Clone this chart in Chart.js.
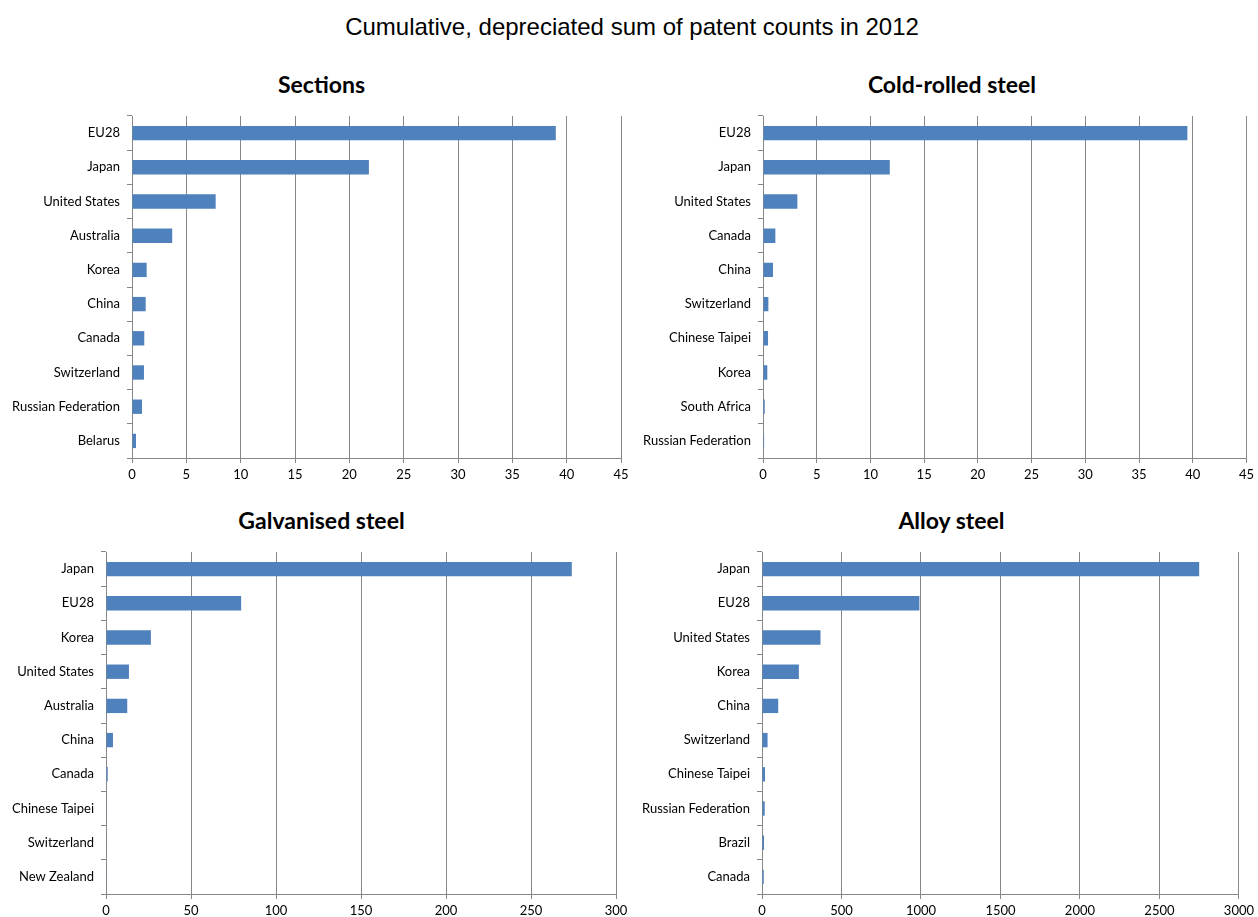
<!DOCTYPE html>
<html>
<head>
<meta charset="utf-8">
<title>Cumulative, depreciated sum of patent counts in 2012</title>
<script src="https://cdn.jsdelivr.net/npm/chart.js@4.4.0/dist/chart.umd.min.js"></script>
<style>
    body { margin: 0; width: 1258px; height: 917px; background: #fff; position: relative; overflow: hidden; }
    #mainTitle { position: absolute; left: 0; top: 13px; width: 1264px; text-align: center;
                 font-family: "Liberation Sans", Arial, sans-serif; font-size: 24px; color: #000; }
    .box { position: absolute; }
    .sub { position: absolute; text-align: center; font-family: Lato, "Noto Sans", sans-serif;
           font-size: 23px; font-weight: bold; line-height: 26px; color: #000; }
</style>
</head>
<body>
<div id="mainTitle">Cumulative, depreciated sum of patent counts in 2012</div>
<div class="sub" style="left:0;top:71px;width:643px">Sections</div>
<div class="sub" style="left:646px;top:71px;width:612px">Cold-rolled steel</div>
<div class="sub" style="left:0;top:507px;width:643px">Galvanised steel</div>
<div class="sub" style="left:646px;top:507px;width:611px">Alloy steel</div>

<div class="box" style="left:0;top:60px;width:640px;height:430px"><canvas id="chartSections"></canvas></div>
<div class="box" style="left:630px;top:60px;width:628px;height:430px"><canvas id="chartCold"></canvas></div>
<div class="box" style="left:0;top:496px;width:640px;height:421px"><canvas id="chartGalv"></canvas></div>
<div class="box" style="left:630px;top:496px;width:628px;height:421px"><canvas id="chartAlloy"></canvas></div>

<script>
// values
var sectionsLabels = ['EU28', 'Japan', 'United States', 'Australia', 'Korea', 'China', 'Canada', 'Switzerland', 'Russian Federation', 'Belarus'];
var sectionsValues = [39.0, 21.8, 7.7, 3.7, 1.35, 1.26, 1.13, 1.1, 0.92, 0.37];
var sectionsAxis = [0, 45, 5];

var coldLabels = ['EU28', 'Japan', 'United States', 'Canada', 'China', 'Switzerland', 'Chinese Taipei', 'Korea', 'South Africa', 'Russian Federation'];
var coldValues = [39.5, 11.8, 3.2, 1.15, 0.93, 0.5, 0.47, 0.4, 0.16, 0.1];
var coldAxis = [0, 45, 5];

var galvLabels = ['Japan', 'EU28', 'Korea', 'United States', 'Australia', 'China', 'Canada', 'Chinese Taipei', 'Switzerland', 'New Zealand'];
var galvValues = [274, 79.5, 26.4, 13.5, 12.5, 4.1, 1.0, 0.4, 0.3, 0.2];
var galvAxis = [0, 300, 50];

var alloyLabels = ['Japan', 'EU28', 'United States', 'Korea', 'China', 'Switzerland', 'Chinese Taipei', 'Russian Federation', 'Brazil', 'Canada'];
var alloyValues = [2750, 990, 368, 232, 102, 35, 19, 17, 13, 11];
var alloyAxis = [0, 3000, 500];

var gridGrey = '#868686';
var labelFont = { family: 'Lato, "Noto Sans", sans-serif', size: 13 };

function makeChart(id, labels, values, axis, yWidth, xHeight, rightPad) {
    var ctx = document.getElementById(id).getContext('2d');
    return new Chart(ctx, {
        type: 'bar',
        data: {
            labels: labels,
            datasets: [{
                data: values,
                backgroundColor: '#4F81BD',
                borderWidth: 0,
                barPercentage: 0.42,
                categoryPercentage: 1
            }]
        },
        options: {
            indexAxis: 'y',
            responsive: true,
            maintainAspectRatio: false,
            animation: false,
            layout: { padding: { left: 0, right: rightPad, top: 56, bottom: 0 } },
            plugins: {
                legend: { display: false },
                tooltip: { enabled: false }
            },
            scales: {
                x: {
                    min: axis[0],
                    max: axis[1],
                    ticks: {
                        stepSize: axis[2], color: '#000', font: labelFont, padding: 4, maxRotation: 0,
                        callback: function (v) { return String(v); }
                    },
                    grid: { color: gridGrey, tickLength: 5, drawOnChartArea: true },
                    border: { display: true, color: gridGrey },
                    afterFit: function (scale) { scale.height = xHeight; }
                },
                y: {
                    ticks: { color: '#000', font: labelFont, padding: 7, autoSkip: false },
                    grid: { color: gridGrey, tickLength: 5, drawOnChartArea: false, offset: true },
                    border: { display: true, color: gridGrey },
                    afterFit: function (scale) { scale.width = yWidth; }
                }
            }
        }
    });
}

makeChart('chartSections', sectionsLabels, sectionsValues, sectionsAxis, 132, 32, 19);
makeChart('chartCold', coldLabels, coldValues, coldAxis, 133, 32, 8);
makeChart('chartGalv', galvLabels, galvValues, galvAxis, 106, 23, 24);
makeChart('chartAlloy', alloyLabels, alloyValues, alloyAxis, 132, 23, 16);
</script>
</body>
</html>
